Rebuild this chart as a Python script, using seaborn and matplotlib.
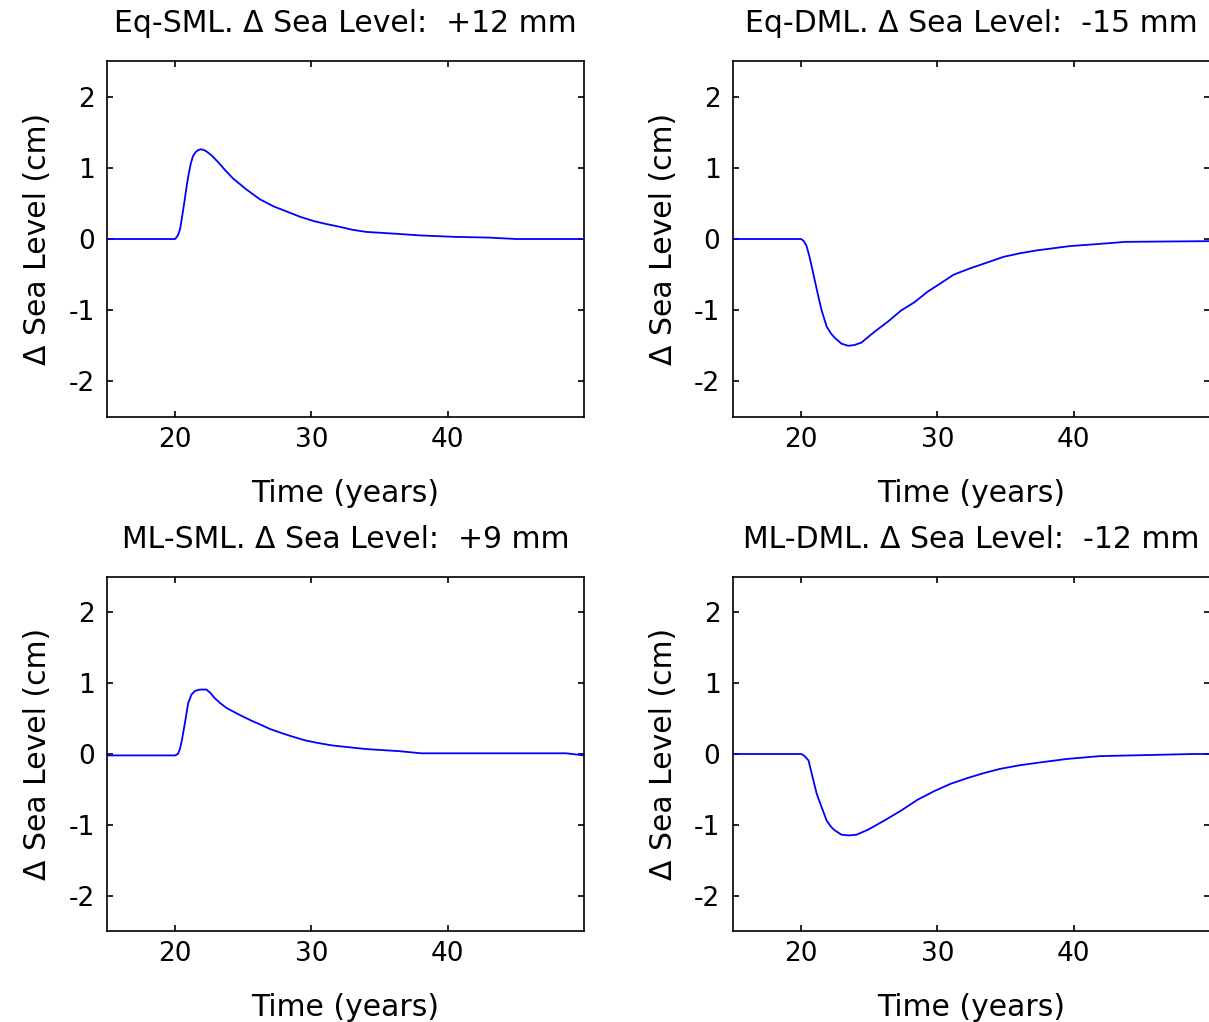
import pandas as pd
import matplotlib.pyplot as plt
import seaborn as sns

# values (time in years, sea level change in cm)
eq_sml_t = [15, 20, 20.2, 20.35, 20.5, 20.7, 20.85, 21.0, 21.15, 21.3, 21.5, 21.7, 21.9, 22.1,
            22.3, 22.7, 23.2, 23.7, 24.25, 25.2, 26.2, 27.2, 28.2, 29.2, 30.2, 31.1, 32.1,
            33.0, 34.0, 36.5, 38.0, 40.5, 43.0, 45.0, 50]
eq_sml_y = [0, 0, 0.05, 0.13, 0.3, 0.55, 0.75, 0.92, 1.06, 1.16, 1.22, 1.25, 1.26, 1.25,
            1.23, 1.17, 1.07, 0.96, 0.85, 0.70, 0.56, 0.46, 0.385, 0.31, 0.25, 0.21, 0.17,
            0.13, 0.10, 0.07, 0.05, 0.03, 0.02, 0.0, 0.0]

eq_dml_t = [15, 20, 20.2, 20.4, 20.6, 20.78, 21.0, 21.15, 21.35, 21.5, 21.87, 22.2, 22.48,
            22.96, 23.45, 23.9, 24.42, 25.4, 26.37, 27.33, 28.3, 29.28, 30.25, 31.2, 32.43,
            33.65, 34.86, 36.07, 37.3, 38.5, 39.7, 42.1, 43.8, 50]
eq_dml_y = [0, 0, -0.03, -0.1, -0.24, -0.39, -0.58, -0.71, -0.88, -1.0, -1.23, -1.33, -1.39,
            -1.47, -1.50, -1.49, -1.455, -1.30, -1.16, -1.005, -0.89, -0.74, -0.62, -0.50,
            -0.41, -0.33, -0.25, -0.20, -0.16, -0.13, -0.10, -0.066, -0.04, -0.03]

ml_sml_t = [15, 20, 20.2, 20.35, 20.5, 20.7, 20.96, 21.2, 21.45, 21.8, 22.3, 22.6, 22.9,
            23.3, 23.77, 24.75, 25.5, 26.2, 27.0, 27.9, 28.7, 29.6, 30.5, 31.55, 34.0, 36.45,
            38.05, 48.7, 50]
ml_sml_y = [-0.02, -0.02, 0.0, 0.07, 0.2, 0.42, 0.72, 0.84, 0.89, 0.91, 0.91, 0.86, 0.79,
            0.72, 0.65, 0.55, 0.48, 0.42, 0.35, 0.29, 0.24, 0.19, 0.155, 0.12, 0.07, 0.04,
            0.01, 0.01, -0.02]

ml_dml_t = [15, 20, 20.2, 20.54, 20.78, 21.14, 21.5, 21.87, 22.2, 22.48, 22.96, 23.5, 24.06,
            24.9, 26.1, 27.33, 28.55, 29.76, 30.98, 32.2, 33.4, 34.6, 36.0, 37.5, 39.5, 41.9,
            48.8, 50]
ml_dml_y = [0, 0, -0.02, -0.09, -0.28, -0.56, -0.75, -0.94, -1.03, -1.08, -1.14, -1.15,
            -1.14, -1.07, -0.94, -0.80, -0.645, -0.525, -0.42, -0.34, -0.27, -0.21, -0.16,
            -0.12, -0.07, -0.03, 0, 0]

titles = ["Eq-SML. \u0394 Sea Level:  +12 mm", "Eq-DML. \u0394 Sea Level:  -15 mm",
          "ML-SML. \u0394 Sea Level:  +9 mm", "ML-DML. \u0394 Sea Level:  -12 mm"]
x_ticks = [20, 30, 40]
y_ticks = [-2, -1, 0, 1, 2]

sns.set_theme(style="ticks")
plt.rcParams['font.family'] = ['DejaVu Sans']
plt.rcParams['axes.unicode_minus'] = False
plt.rcParams['text.color'] = 'black'
plt.rcParams['axes.labelcolor'] = 'black'

fig = plt.figure(figsize=(12.09, 10.22), dpi=100)
W, H = 1209, 1022
boxes = [(107, 61, 356), (733, 61, 356), (107, 577, 354), (733, 577, 354)]
aw = 477

panels = [(eq_sml_t, eq_sml_y), (eq_dml_t, eq_dml_y), (ml_sml_t, ml_sml_y), (ml_dml_t, ml_dml_y)]

for (px, py, ah), (t, y), title in zip(boxes, panels, titles):
    ax = fig.add_axes([px / W, 1 - (py + ah) / H, aw / W, ah / H])
    df = pd.DataFrame({"t": t, "y": y})
    sns.lineplot(data=df, x="t", y="y", ax=ax, color=(0, 0, 1), linewidth=1.3,
                 sort=False, estimator=None)
    ax.set_xlim(15, 50)
    ax.set_ylim(-2.5, 2.5)
    ax.set_xticks(x_ticks)
    ax.set_yticks(y_ticks)
    ax.tick_params(direction="in", length=4, width=1.2, top=True, right=True,
                   labelsize=19, colors="black", pad=9)
    ax.tick_params(axis="x", pad=7)
    for s in ax.spines.values():
        s.set_color("black")
        s.set_linewidth(1.2)
    ax.set_xlabel("Time (years)", fontsize=21.5, labelpad=19, color="black")
    ax.set_ylabel("\u0394 Sea Level (cm)", fontsize=21.5, labelpad=12, color="black")
    ax.set_title(title, fontsize=21.5, pad=21, color="black")

fig.savefig("out.png", dpi=100)
